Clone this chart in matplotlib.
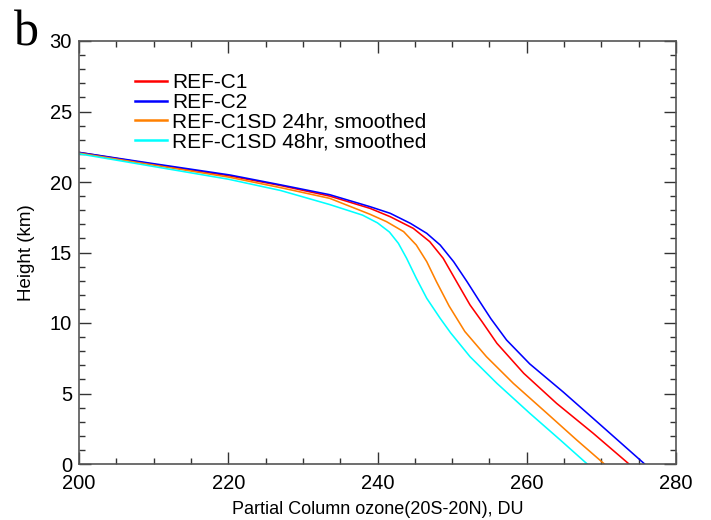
import matplotlib
matplotlib.use("Agg")
import matplotlib.pyplot as plt
from matplotlib.lines import Line2D
from matplotlib.ticker import MultipleLocator

# ---- data (ozone DU, height km) ----
c1_ozone  = [200.0, 210.0, 220.0, 227.0, 233.6, 239.0, 241.7, 244.8, 247.0, 248.8, 250.6, 252.4, 254.0, 256.0, 259.6, 264.0, 268.9, 273.7]
c1_height = [22.1, 21.25, 20.45, 19.75, 19.0, 18.13, 17.54, 16.71, 15.77, 14.59, 12.93, 11.28, 10.1, 8.56, 6.43, 4.3, 2.18, 0.0]

c2_ozone  = [200.0, 210.0, 220.2, 227.0, 233.6, 239.0, 241.7, 244.4, 246.6, 248.4, 250.2, 252.0, 253.6, 255.2, 257.3, 260.4, 264.9, 269.4, 275.8]
c2_height = [22.1, 21.3, 20.5, 19.8, 19.1, 18.25, 17.78, 17.07, 16.36, 15.53, 14.35, 12.93, 11.6, 10.3, 8.79, 7.1, 5.1, 3.0, 0.0]

sd24_ozone  = [200.0, 210.0, 220.0, 227.0, 233.6, 239.0, 241.2, 243.5, 245.2, 246.6, 247.9, 249.6, 251.7, 254.6, 258.2, 262.7, 266.7, 270.4]
sd24_height = [22.05, 21.2, 20.35, 19.6, 18.84, 17.71, 17.19, 16.48, 15.53, 14.35, 12.93, 11.2, 9.4, 7.61, 5.72, 3.6, 1.7, 0.0]

sd48_ozone  = [200.0, 210.0, 220.0, 227.0, 233.6, 238.0, 240.0, 241.6, 242.8, 243.9, 245.2, 246.6, 248.4, 249.8, 252.4, 256.0, 260.4, 264.5, 268.1]
sd48_height = [22.0, 21.1, 20.2, 19.4, 18.4, 17.65, 17.1, 16.45, 15.65, 14.59, 13.17, 11.75, 10.33, 9.3, 7.61, 5.72, 3.6, 1.7, 0.0]

labels = ["REF-C1", "REF-C2", "REF-C1SD 24hr, smoothed", "REF-C1SD 48hr, smoothed"]
colors = ["#ff0000", "#0000ff", "#ff8000", "#00ffff"]

plt.rcParams['font.family'] = ['Liberation Sans', 'DejaVu Sans']

W, H = 711, 520
fig = plt.figure(figsize=(W/100, H/100), dpi=100)
ax = fig.add_axes([79/W, 1-464/H, (676-79)/W, (464-41)/H])

series = [(c1_ozone, c1_height), (c2_ozone, c2_height), (sd24_ozone, sd24_height), (sd48_ozone, sd48_height)]
for (x, y), col in zip(series, colors):
    ax.plot(x, y, color=col, lw=1.15, solid_joinstyle='round')

ax.set_xlim(200, 280)
ax.set_ylim(0, 30)
ax.xaxis.set_major_locator(MultipleLocator(20))
ax.xaxis.set_minor_locator(MultipleLocator(5))
ax.yaxis.set_major_locator(MultipleLocator(5))
ax.yaxis.set_minor_locator(MultipleLocator(1))
ax.tick_params(which='both', direction='in', top=True, right=True, colors='#333333',
               labelcolor='black', labelsize=14.5, width=1)
ax.tick_params(which='major', length=8.5)
ax.tick_params(which='minor', length=4.3)
ax.tick_params(axis='x', which='major', pad=7)
ax.tick_params(axis='y', which='major', pad=5)
for s in ax.spines.values():
    s.set_color('#555555')
    s.set_linewidth(1.2)

fig.canvas.draw()
ylabs = ax.get_yticklabels()
ylabs[0].set_verticalalignment('bottom')
ylabs[-1].set_verticalalignment('top')

ax.set_xlabel("Partial Column ozone(20S-20N), DU", fontsize=13)
ax.xaxis.set_label_coords(0.5, (464-501)/423)
ax.set_ylabel("Height (km)", fontsize=13.5)
ax.yaxis.set_label_coords((35-79)/597, 0.5)

# legend (manual, IDL style)
for i, (lab, col) in enumerate(zip(labels, colors)):
    yc = 1 - (81 + 19.7*i)/H
    fig.add_artist(Line2D([135/W, 167/W], [yc, yc], color=col, lw=1.8, transform=fig.transFigure))
    fig.text(172/W, yc, lab, fontsize=15, ha='left', va='center_baseline', color='black')

fig.text(14/W, 1-45/H, "b", family=['Liberation Serif', 'DejaVu Serif'], fontsize=36,
         ha='left', va='baseline')

fig.savefig("out.png", dpi=100)
